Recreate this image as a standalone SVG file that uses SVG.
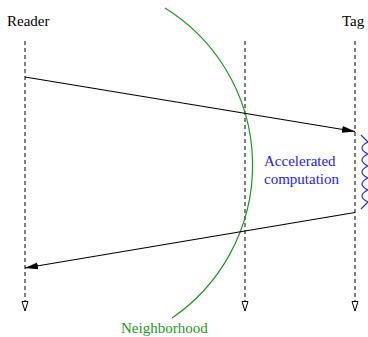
<svg xmlns="http://www.w3.org/2000/svg" width="368" height="337" viewBox="0 0 368 337">
<style>
.t { font-family: 'Liberation Serif', 'Times New Roman', Times, serif; font-size: 15px; }
.life { stroke: #000; stroke-width: 1; stroke-dasharray: 4 3; fill: none; }
.msg { stroke: #000; stroke-width: 1.1; fill: none; }
.head { fill: #fff; stroke: #000; stroke-width: 1; }
</style>
<defs>
<marker id="filled" markerWidth="14" markerHeight="8" refX="13" refY="4" orient="auto" markerUnits="userSpaceOnUse" viewBox="0 0 14 8">
<path d="M0,0.5 L13,4 L0,7.5 Z" fill="#000"/>
</marker>
</defs>
<rect width="368" height="337" fill="#fff"/>
<g id="reader">
<text class="t" x="7" y="26" font-family="Liberation Serif, serif">Reader</text>
<line class="life" x1="25" y1="41" x2="25" y2="302"/>
<path class="head" d="M22,301.5 L28,301.5 L25,311 Z"/>
</g>
<g id="middle">
<line class="life" x1="245" y1="41" x2="245" y2="302"/>
<path class="head" d="M242,301.5 L248,301.5 L245,311 Z"/>
</g>
<g id="tag">
<text class="t" x="342" y="26" font-family="Liberation Serif, serif">Tag</text>
<line class="life" x1="355" y1="41" x2="355" y2="302"/>
<path class="head" d="M352,301.5 L358,301.5 L355,311 Z"/>
</g>
<g id="neighborhood">
<path d="M165,8 A185,185 0 0 1 172,318" fill="none" stroke="#1a9a1a" stroke-width="1.2"/>
<text class="t" x="121" y="333" fill="#1a9a1a" font-family="Liberation Serif, serif">Neighborhood</text>
</g>
<g id="computation">
<path d="M361,135 L368,142 C360,146 360,150 368,154 C360,158 360,162 368,166 C360,170 360,174 368,178 C360,182 360,186 368,190 C360,194 360,198 368,202 L361,209" fill="none" stroke="#1a1aff" stroke-width="1.1"/>
<text class="t" x="264" y="166" fill="#1a1aff" font-family="Liberation Serif, serif">Accelerated</text>
<text class="t" x="264" y="184" fill="#1a1aff" font-family="Liberation Serif, serif">computation</text>
</g>
<g id="connectors">
<line class="msg" x1="25" y1="77" x2="355" y2="131.5" marker-end="url(#filled)"/>
<line class="msg" x1="355" y1="212.5" x2="25" y2="268" marker-end="url(#filled)"/>
</g>
</svg>
